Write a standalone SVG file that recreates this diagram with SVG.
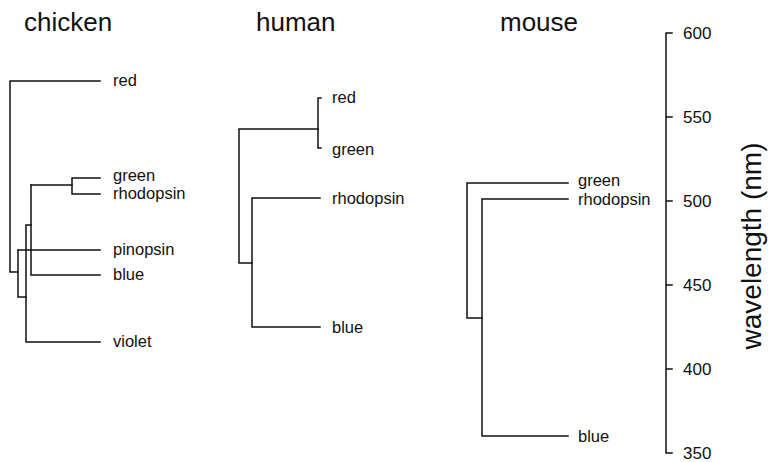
<svg xmlns="http://www.w3.org/2000/svg" width="770" height="462" viewBox="0 0 770 462">
  <style>
    .title { font-family: "Liberation Sans", Arial, Helvetica, sans-serif; font-size: 26px; fill: #111; }
    .leaf  { font-family: "Liberation Sans", Arial, Helvetica, sans-serif; font-size: 16.5px; fill: #111; }
    .tick  { font-family: "Liberation Sans", Arial, Helvetica, sans-serif; font-size: 17px; fill: #111; }
    .axlab { font-family: "Liberation Sans", Arial, Helvetica, sans-serif; font-size: 28px; fill: #111; }
    .branch { fill: none; stroke: #111; stroke-width: 1.5; stroke-linecap: square; }
  </style>
  <rect width="770" height="462" fill="#fff"/>

  <!-- tree headings -->
  <g id="titles">
    <text class="title" x="24" y="31">chicken</text>
    <text class="title" x="256" y="31">human</text>
    <text class="title" x="500" y="31">mouse</text>
  </g>

  <!-- branches of the three trees -->
  <g id="connectors" class="branch">
    <!-- chicken -->
    <path d="M100,81 H10 V272 H18"/>
    <path d="M18,250 V297 H26"/>
    <path d="M18,250 H100"/>
    <path d="M31,225 H26 V342 H100"/>
    <path d="M31,185 V275 H100"/>
    <path d="M31,185 H72"/>
    <path d="M100,178 H72 V194 H100"/>
    <!-- human -->
    <path d="M321,98 H318 V148 H321"/>
    <path d="M318,129 H239 V263 H252"/>
    <path d="M320,198 H252 V327 H320"/>
    <!-- mouse -->
    <path d="M568,183 H467 V318 H482"/>
    <path d="M568,199 H482 V436 H568"/>
  </g>

  <g id="chicken">
    <text class="leaf" x="113" y="86">red</text>
    <text class="leaf" x="113" y="181">green</text>
    <text class="leaf" x="113" y="199">rhodopsin</text>
    <text class="leaf" x="113" y="255">pinopsin</text>
    <text class="leaf" x="113" y="280">blue</text>
    <text class="leaf" x="113" y="347">violet</text>
  </g>

  <g id="human">
    <text class="leaf" x="332" y="103">red</text>
    <text class="leaf" x="332" y="155">green</text>
    <text class="leaf" x="332" y="204">rhodopsin</text>
    <text class="leaf" x="332" y="333">blue</text>
  </g>

  <g id="mouse">
    <text class="leaf" x="578" y="186">green</text>
    <text class="leaf" x="578" y="205">rhodopsin</text>
    <text class="leaf" x="578" y="442">blue</text>
  </g>

  <!-- wavelength scale -->
  <g id="axis">
    <path class="branch" d="M666,33 V453 M666,33 H672 M666,117 H672 M666,201 H672 M666,285 H672 M666,369 H672 M666,453 H672"/>
    <text class="tick" x="683" y="39">600</text>
    <text class="tick" x="683" y="123">550</text>
    <text class="tick" x="683" y="207">500</text>
    <text class="tick" x="683" y="291">450</text>
    <text class="tick" x="683" y="375">400</text>
    <text class="tick" x="683" y="459">350</text>
    <text class="axlab" text-anchor="middle" transform="translate(761,246) rotate(-90)">wavelength (nm)</text>
  </g>
</svg>
